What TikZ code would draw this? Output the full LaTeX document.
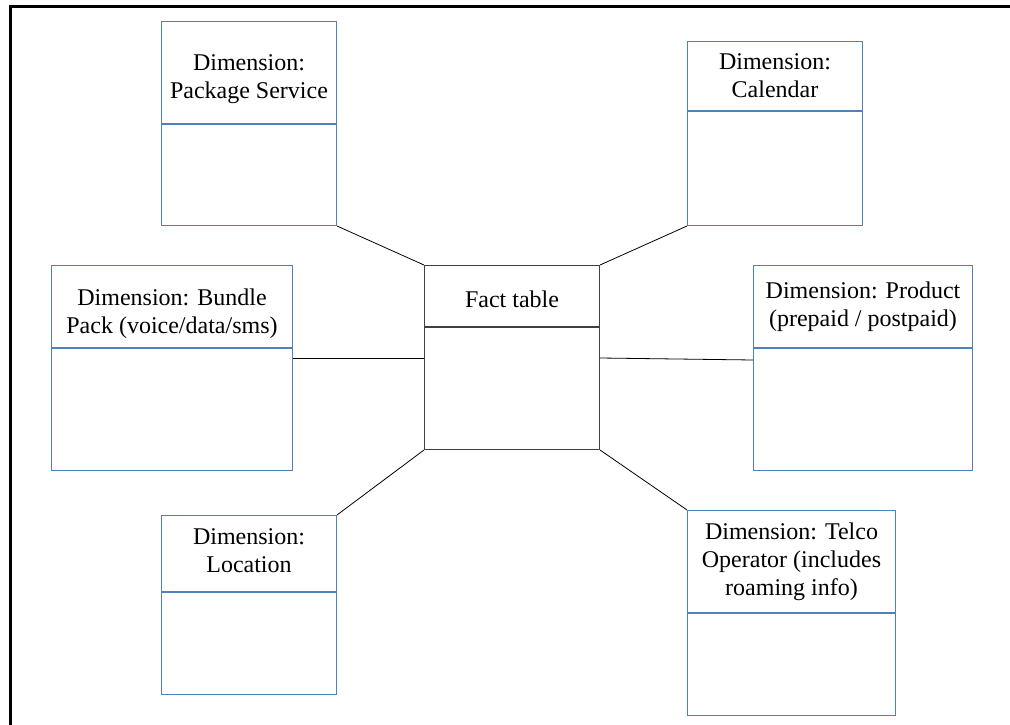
\documentclass[tikz,border=0pt]{standalone}
\usepackage{fontspec}
\setmainfont{Liberation Serif}
\usetikzlibrary{positioning}
\definecolor{boxBlue}{RGB}{79,129,189}
\newlength\lineW
\setlength\lineW{1pt}
\tikzset{
  dimTitle/.style={draw=boxBlue, line width=\lineW, inner sep=0pt, anchor=north west},
  dimBody/.style={draw=boxBlue, line width=\lineW, inner sep=0pt},
  dimText/.style={inner sep=0pt, align=center, font=\fontsize{24}{28}\selectfont},
  factBox/.style={draw=black!75, line width=\lineW, inner sep=0pt},
  link/.style={draw=black, line width=0.8pt}
}
% [text shift] name, x, y, width, title height, body height, text
\newcommand\dimBox[8][0pt]{
  \node[dimTitle, minimum width=#5, minimum height=#6] (#2) at (#3,#4) {};
  \node[dimBody, minimum width=#5, minimum height=#7, below=0pt of #2] (#2Body) {};
  \node[dimText, yshift=#1] (#2Text) at (#2.center) {#8};
}

\begin{document}
\begin{tikzpicture}[x=1pt,y=-1pt]
    \useasboundingbox (0,0) rectangle (1010,725);
    \draw[line width=3pt] (1010,7) -- (10,7) -- (10,725);

    \begin{scope}
      \node[factBox, anchor=north west, minimum width=175, minimum height=61] (fact) at (424,265) {};
      \node[factBox, minimum width=175, minimum height=122, below=0pt of fact] (factBody) {};
      \node[dimText, yshift=-3pt] (factText) at (fact.center) {Fact table};
    \end{scope}

    \begin{scope}
      \dimBox[-7pt]{pkg}{161}{21}{175}{102}{101}{Dimension:\\Package Service}
      \dimBox{cal}{687}{41}{175}{69}{114}{Dimension:\\Calendar}
      \dimBox[-7pt]{bundle}{51}{265}{241}{82}{122}{Dimension: Bundle\\Pack (voice/data/sms)}
      \dimBox{prod}{753}{265}{219}{82}{122}{Dimension: Product\\(prepaid / postpaid)}
      \dimBox[3pt]{loc}{161}{515}{175}{76}{102}{Dimension:\\Location}
      \dimBox{telco}{687}{510}{208}{102}{102}{Dimension: Telco\\Operator (includes\\roaming info)}
    \end{scope}

    \foreach \from/\to in {pkgBody.south east/fact.north west,
                           calBody.south west/fact.north east,
                           loc.north east/factBody.south west,
                           telco.north west/factBody.south east} {
      \draw[link] (\from) -- (\to);
    }
    \draw[link] ([yshift=-10pt]bundleBody.north east) -- ([yshift=-31pt]factBody.north west);
    \draw[link] ([yshift=-12pt]prodBody.north west) -- ([yshift=-31pt]factBody.north east);
  \end{tikzpicture}
\end{document}
